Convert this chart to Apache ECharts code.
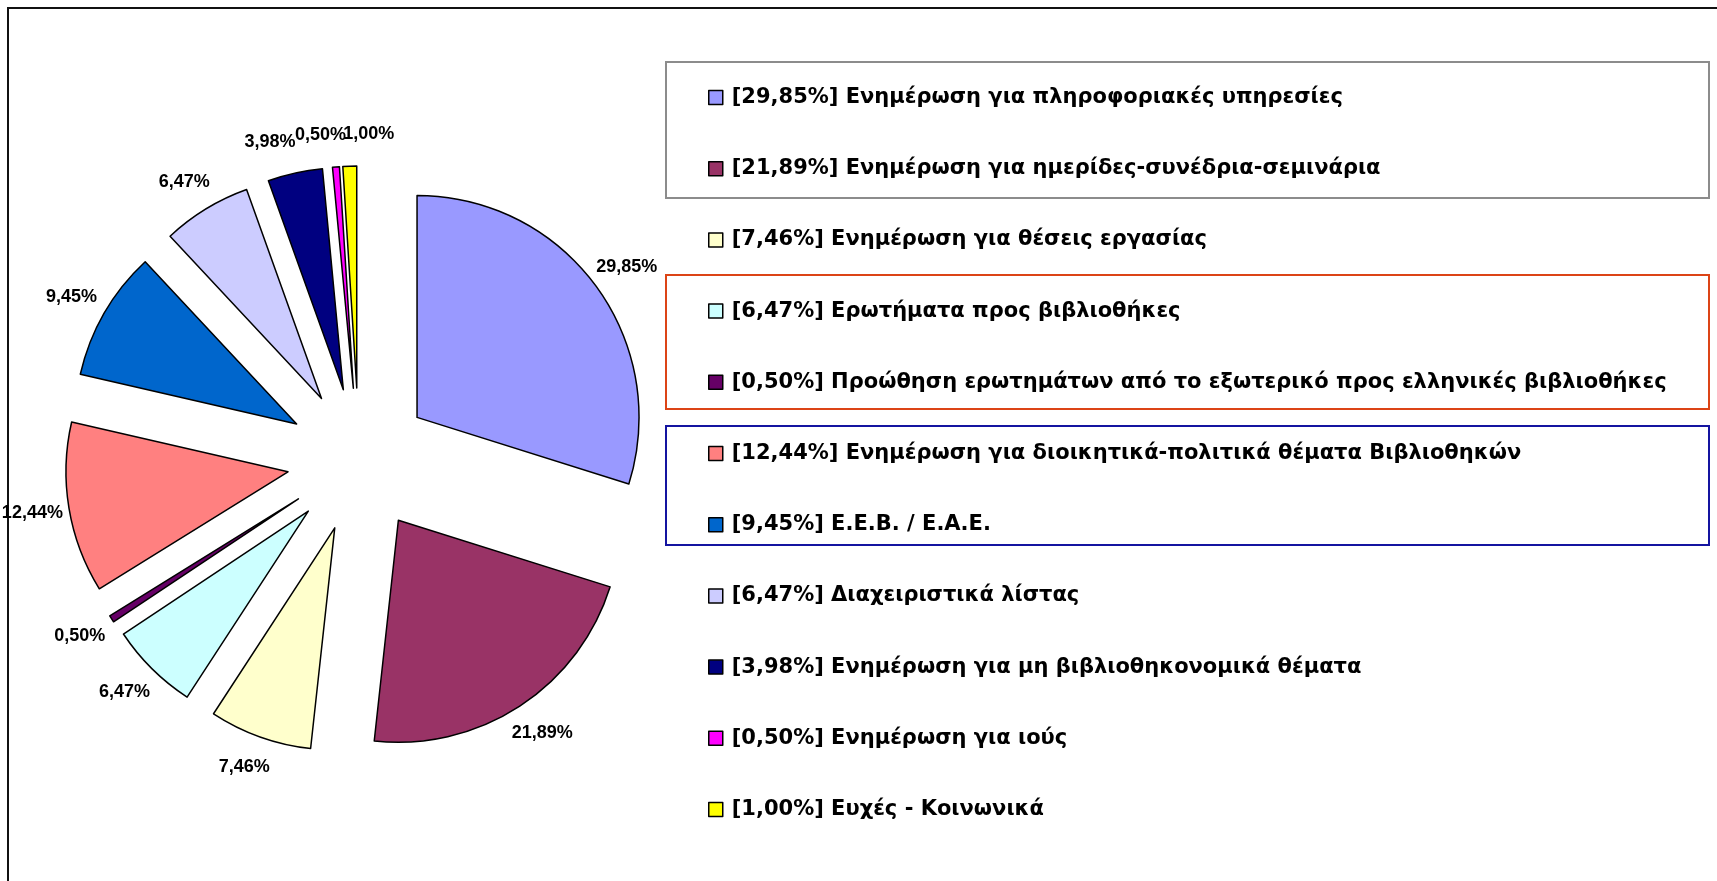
<!DOCTYPE html>
<html>
<head>
<meta charset="utf-8">
<title>Pie</title>
<script src="https://cdn.jsdelivr.net/npm/echarts@6/dist/echarts.min.js"></script>
<style>
  html, body { margin: 0; padding: 0; background: #fff; }
  #chart { width: 1717px; height: 881px; }
</style>
</head>
<body>
<div id="chart"></div>
<script>
// slices, clockwise from 12 o'clock
const categories = [
  'Ενημέρωση για πληροφοριακές υπηρεσίες',
  'Ενημέρωση για ημερίδες-συνέδρια-σεμινάρια',
  'Ενημέρωση για θέσεις εργασίας',
  'Ερωτήματα προς βιβλιοθήκες',
  'Προώθηση ερωτημάτων από το εξωτερικό προς ελληνικές βιβλιοθήκες',
  'Ενημέρωση για διοικητικά-πολιτικά θέματα Βιβλιοθηκών',
  'Ε.Ε.Β. / Ε.Α.Ε.',
  'Διαχειριστικά λίστας',
  'Ενημέρωση για μη βιβλιοθηκονομικά θέματα',
  'Ενημέρωση για ιούς',
  'Ευχές - Κοινωνικά'
]
const values = [29.85, 21.89, 7.46, 6.47, 0.50, 12.44, 9.45, 6.47, 3.98, 0.50, 1.00]
const colors = [
  '#9999FF', '#993366', '#FFFFCC', '#CCFFFF', '#660066', '#FF8080',
  '#0066CC', '#CCCCFF', '#000080', '#FF00FF', '#FFFF00'
]

const fmt = v => v.toFixed(2).replace('.', ',') + '%'

const chart = echarts.init(document.getElementById('chart'))

const sliceStyle = { borderColor: '#000', borderWidth: 1.5 }

// the three thin slices at the top would stack their labels on each other,
// nudge them apart so they sit side by side in one row
const rowNudge = { 8: 18, 9: 13, 10: -20 }

function placeLabel(p) {
  const r = p.labelRect
  // centre each label on the end of its (hidden) label line
  return {
    x: p.align === 'right' ? r.x + r.width : r.x,
    y: r.y + r.height / 2,
    align: 'center',
    verticalAlign: 'middle'
  }
}

chart.setOption({
  animation: false,
  backgroundColor: '#fff',
  color: colors,
  graphic: [
    // outer chart-area frame (runs off the right/bottom edge)
    { type: 'rect', shape: { x: 8, y: 8, width: 1760, height: 920 }, style: { fill: null, stroke: '#111', lineWidth: 2 } },
    // group frames around legend entries
    { type: 'rect', shape: { x: 666, y: 62, width: 1043, height: 136 }, style: { fill: null, stroke: '#8c8c8c', lineWidth: 2 } },
    { type: 'rect', shape: { x: 666, y: 275, width: 1043, height: 134 }, style: { fill: null, stroke: '#dc4416', lineWidth: 2 } },
    { type: 'rect', shape: { x: 666, y: 426, width: 1043, height: 119 }, style: { fill: null, stroke: '#1414a0', lineWidth: 2 } }
  ],
  legend: {
    orient: 'vertical',
    left: 703,
    top: 82,
    itemWidth: 14,
    itemHeight: 14,
    itemGap: 50.2,
    selectedMode: false,
    icon: 'rect',
    itemStyle: { borderColor: '#000', borderWidth: 1.5 },
    textStyle: {
      fontFamily: 'DejaVu Sans',
      fontWeight: 'bold',
      fontSize: 21,
      lineHeight: 20,
      color: '#000',
      padding: [0, 0, 0, 4]
    },
    formatter: name => '[' + fmt(values[categories.indexOf(name)]) + '] ' + name,
    data: categories
  },
  series: [{
    type: 'pie',
    center: [359, 460],
    radius: 222,
    startAngle: 90,
    clockwise: true,
    selectedMode: 'multiple',
    selectedOffset: 72,
    avoidLabelOverlap: false,
    itemStyle: sliceStyle,
    label: {
      show: true,
      position: 'outside',
      fontFamily: 'Liberation Sans',
      fontWeight: 'bold',
      fontSize: 18,
      color: '#000',
      formatter: p => fmt(p.value)
    },
    labelLine: { show: false, length: 32, length2: 0 },
    emphasis: { disabled: true },
    select: { itemStyle: sliceStyle },
    labelLayout: placeLabel,
    data: categories.map((name, i) => {
      const item = { name, value: values[i], selected: true }
      if (rowNudge[i] !== undefined) item.label = { distanceToLabelLine: rowNudge[i] }
      return item
    })
  }]
})
</script>
</body>
</html>
